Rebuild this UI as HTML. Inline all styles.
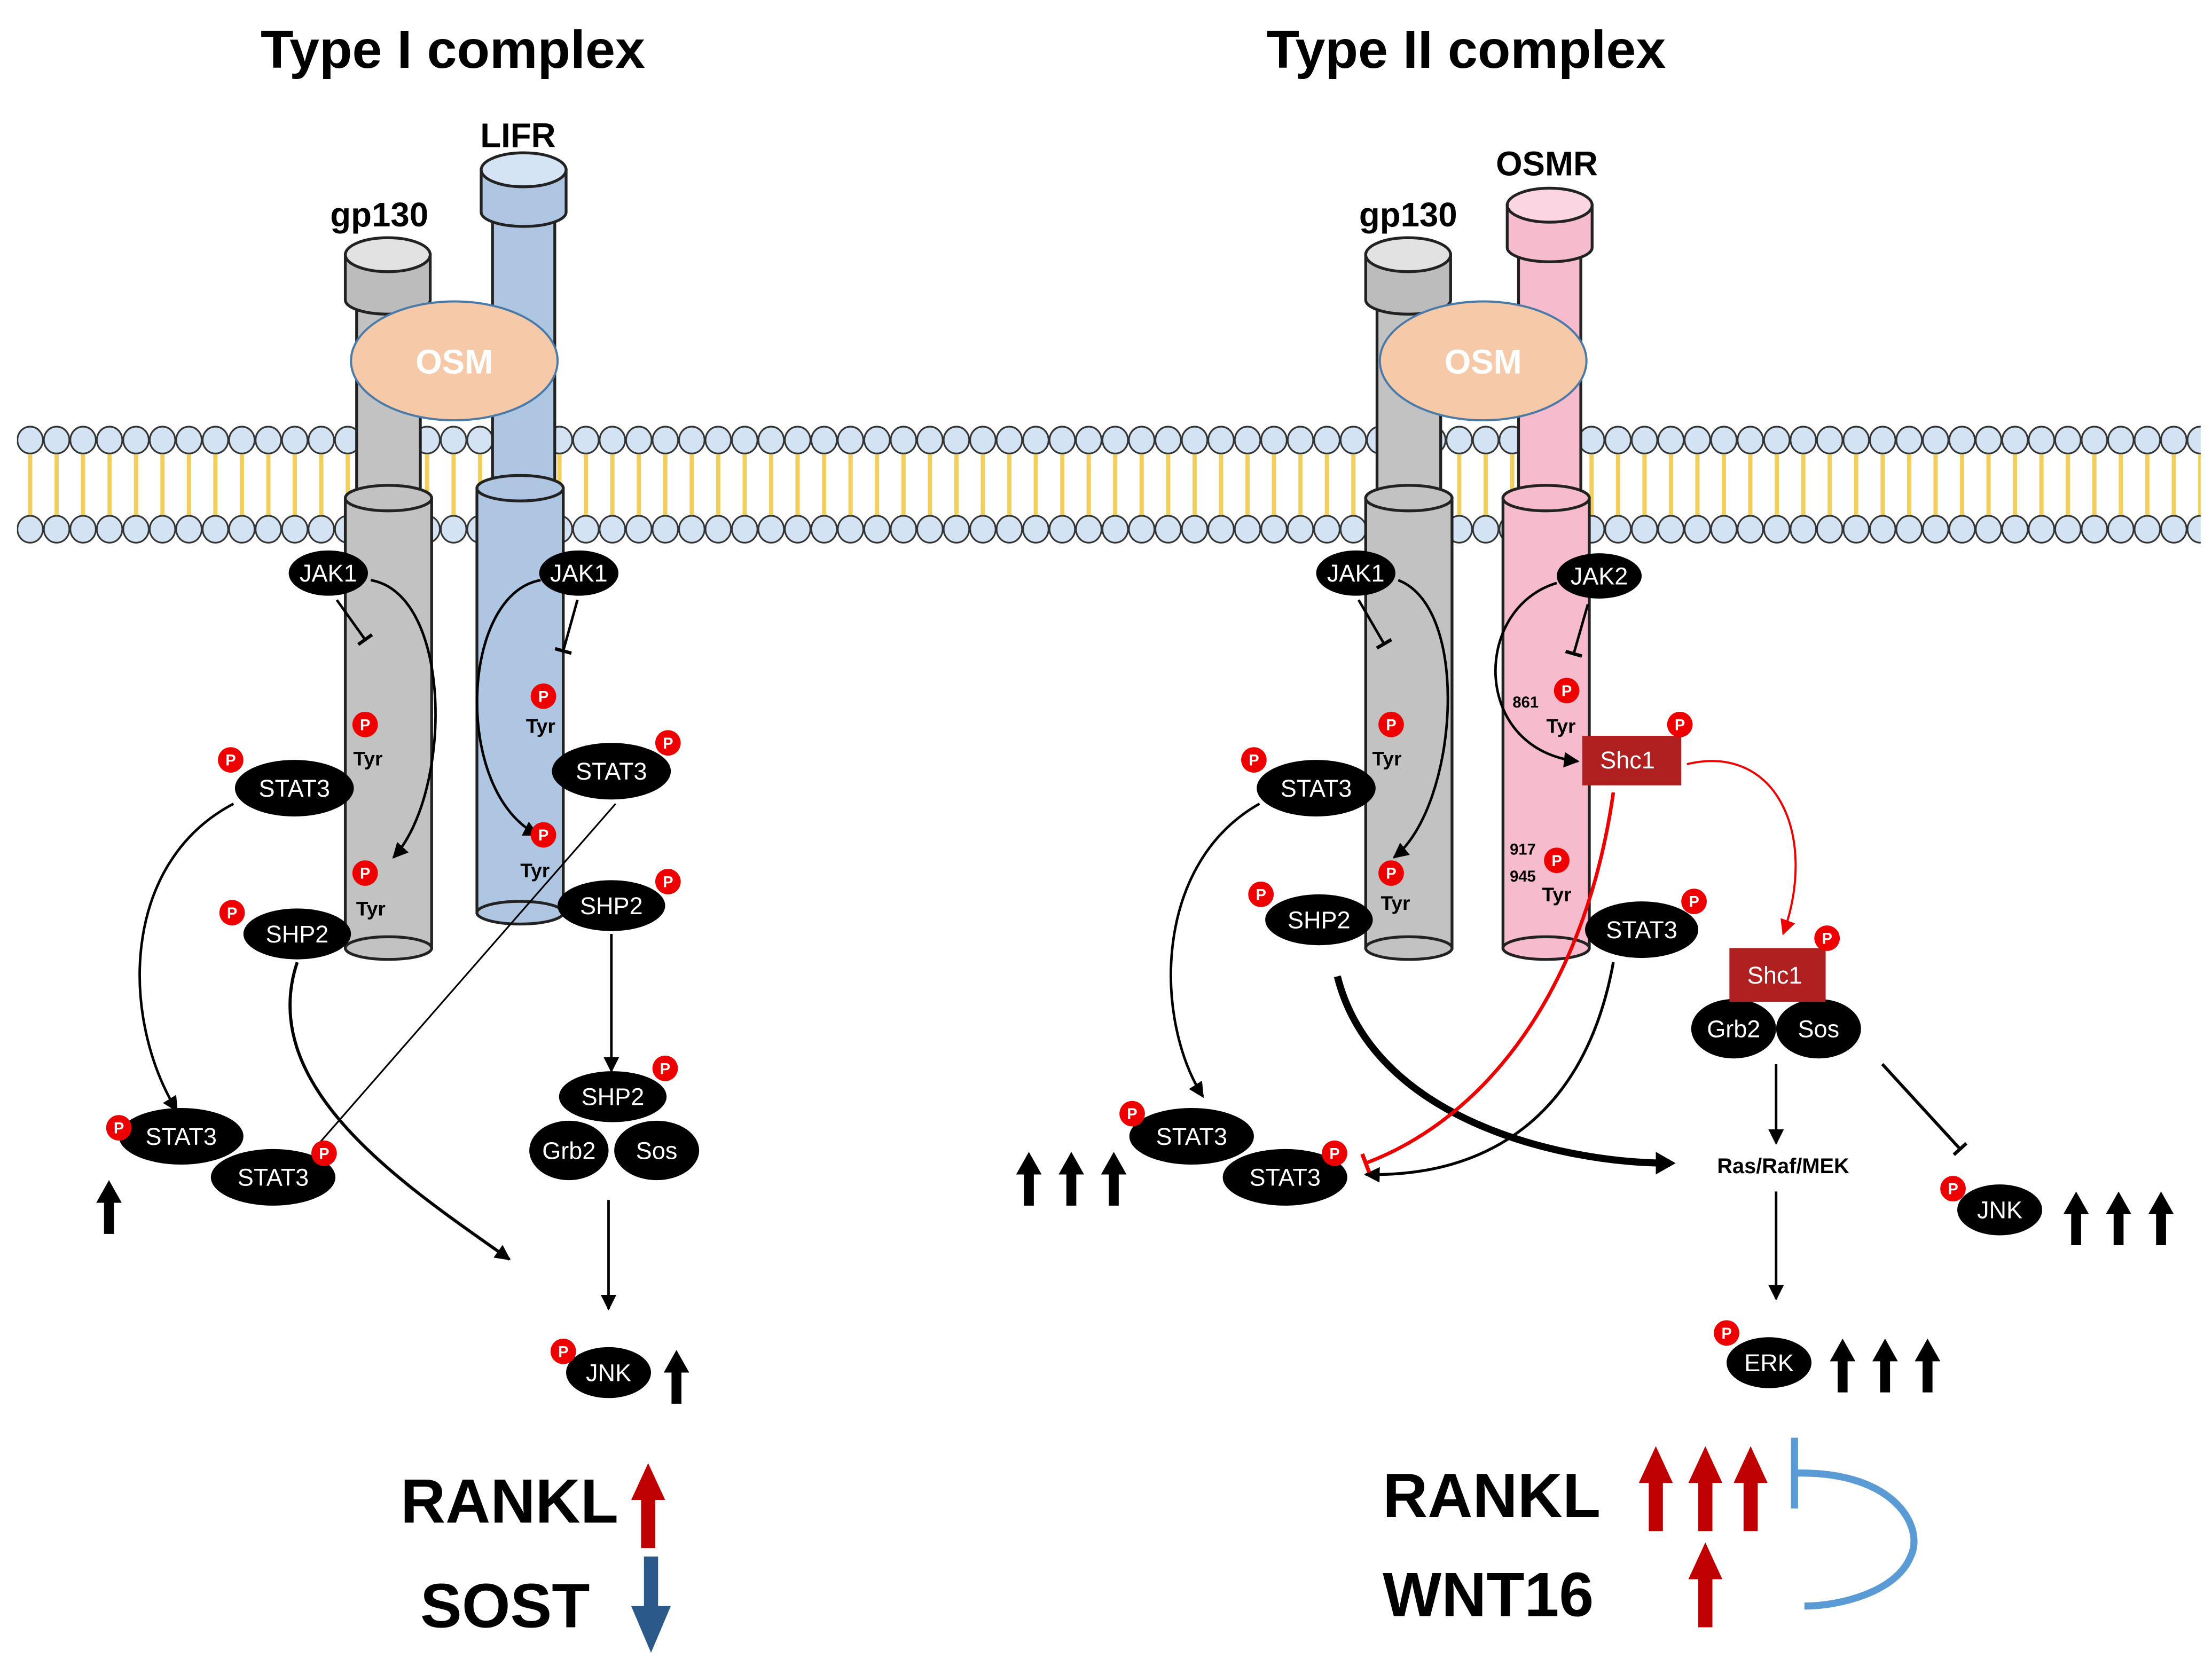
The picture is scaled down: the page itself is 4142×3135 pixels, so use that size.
<!DOCTYPE html>
<html><head><meta charset="utf-8"><style>html,body{margin:0;padding:0;background:#fff}svg{display:block}</style></head><body>
<svg width="4142" height="3135" viewBox="0 0 1563 1183" xmlns="http://www.w3.org/2000/svg" font-family="Liberation Sans, sans-serif">
<defs>
<marker id="ah" viewBox="0 0 10 10" refX="9" refY="5" markerWidth="11" markerHeight="11" markerUnits="userSpaceOnUse" orient="auto"><path d="M0,0 L10,5 L0,10 z" fill="#000"/></marker>
<marker id="ahr" viewBox="0 0 10 10" refX="9" refY="5" markerWidth="11" markerHeight="11" markerUnits="userSpaceOnUse" orient="auto"><path d="M0,0 L10,5 L0,10 z" fill="#e00"/></marker>
<marker id="tb" viewBox="0 0 10 10" refX="5" refY="5" markerWidth="12" markerHeight="12" markerUnits="userSpaceOnUse" orient="auto"><path d="M5,0 L5,10" stroke="#000" stroke-width="2"/></marker>
<marker id="tbr" viewBox="0 0 10 10" refX="5" refY="5" markerWidth="14" markerHeight="14" markerUnits="userSpaceOnUse" orient="auto"><path d="M5,0 L5,10" stroke="#e00" stroke-width="2"/></marker>
<pattern id="heads" x="12" y="0" width="18.7" height="1183" patternUnits="userSpaceOnUse">
<ellipse cx="9.3" cy="311" rx="9" ry="9.5" fill="#d3e3f3" stroke="#333" stroke-width="1.2"/>
<ellipse cx="9.3" cy="374" rx="9" ry="9.5" fill="#d3e3f3" stroke="#333" stroke-width="1.2"/>
<line x1="9.3" y1="321" x2="9.3" y2="364" stroke="#f2cf5a" stroke-width="3"/>
</pattern>
<g id="up"><path d="M-3.5,0 L-3.5,-22 L-9,-22 L0,-38 L9,-22 L3.5,-22 L3.5,0 z" fill="#000"/></g>
<g id="upr"><path d="M-5,0 L-5,-34 L-12,-34 L0,-60 L12,-34 L5,-34 L5,0 z" fill="#c00000"/></g>
</defs>

<text x="320" y="48" font-size="38" font-weight="bold" text-anchor="middle">Type I complex</text>
<text x="1036" y="48" font-size="38" font-weight="bold" text-anchor="middle">Type II complex</text>

<rect x="12" y="298" width="1543" height="90" fill="url(#heads)"/>

<g stroke="#222" stroke-width="2">
<rect x="252" y="210" width="45" height="150" fill="#c2c2c2"/>
<path d="M244,180 L244,212 A30,10 0 0 0 304,212 L304,180 z" fill="#bcbcbc"/>
<ellipse cx="274" cy="180" rx="30" ry="12" fill="#e2e2e2"/>
<rect x="244" y="352" width="61" height="318" fill="#c2c2c2"/>
<ellipse cx="274.5" cy="670" rx="30.5" ry="8" fill="#c2c2c2"/>
<ellipse cx="274.5" cy="352" rx="30.5" ry="9" fill="#c2c2c2"/>
<rect x="348" y="150" width="44" height="200" fill="#aec6e2"/>
<path d="M340,120 L340,150 A30,10 0 0 0 400,150 L400,120 z" fill="#aec6e2"/>
<ellipse cx="370" cy="120" rx="30" ry="12" fill="#d4e4f4"/>
<rect x="337" y="345" width="61" height="300" fill="#aec6e2"/>
<ellipse cx="367.5" cy="645" rx="30.5" ry="8" fill="#aec6e2"/>
<ellipse cx="367.5" cy="345" rx="30.5" ry="9" fill="#aec6e2"/>
<rect x="973" y="210" width="45" height="150" fill="#c2c2c2"/>
<path d="M965,180 L965,212 A30,10 0 0 0 1025,212 L1025,180 z" fill="#bcbcbc"/>
<ellipse cx="995" cy="180" rx="30" ry="12" fill="#e2e2e2"/>
<rect x="965" y="352" width="61" height="318" fill="#c2c2c2"/>
<ellipse cx="995.5" cy="670" rx="30.5" ry="8" fill="#c2c2c2"/>
<ellipse cx="995.5" cy="352" rx="30.5" ry="9" fill="#c2c2c2"/>
<rect x="1073" y="175" width="44" height="180" fill="#f6bccd"/>
<path d="M1065,145 L1065,175 A30,10 0 0 0 1125,175 L1125,145 z" fill="#f6bccd"/>
<ellipse cx="1095" cy="145" rx="30" ry="12" fill="#fbd6e2"/>
<rect x="1062" y="352" width="61" height="318" fill="#f6bccd"/>
<ellipse cx="1092.5" cy="670" rx="30.5" ry="8" fill="#f6bccd"/>
<ellipse cx="1092.5" cy="352" rx="30.5" ry="9" fill="#f6bccd"/>
</g>
<ellipse cx="321" cy="255" rx="73" ry="42" fill="#f6c9a9" stroke="#4a7aa8" stroke-width="1.5"/>
<text x="321" y="264" font-size="24" font-weight="bold" fill="#fff" text-anchor="middle">OSM</text>
<ellipse cx="1048" cy="255" rx="73" ry="42" fill="#f6c9a9" stroke="#4a7aa8" stroke-width="1.5"/>
<text x="1048" y="264" font-size="24" font-weight="bold" fill="#fff" text-anchor="middle">OSM</text>

<g font-size="24" font-weight="bold" text-anchor="middle">
<text x="268" y="160">gp130</text><text x="366" y="104">LIFR</text>
<text x="995" y="160">gp130</text><text x="1093" y="124">OSMR</text>
</g>

<g fill="none" stroke="#000" stroke-width="1.8">
<path d="M238,424 L258,452" marker-end="url(#tb)"/>
<path d="M262,410 C320,420 320,560 278,606" marker-end="url(#ah)"/>
<path d="M382,410 C325,420 320,560 380,590" marker-end="url(#ah)"/>
<path d="M408,424 L398,460" marker-end="url(#tb)"/>
<path d="M165,568 C85,610 85,720 125,785" marker-end="url(#ah)"/>
<path d="M210,680 C180,770 290,840 360,890" stroke-width="2.2" marker-end="url(#ah)"/>
<path d="M435,568 L222,812" stroke-width="1.2"/>
<path d="M432,660 L432,757" marker-end="url(#ah)"/>
<path d="M430,848 L430,925" marker-end="url(#ah)"/>

<path d="M960,424 L978,455" marker-end="url(#tb)"/>
<path d="M988,410 C1040,430 1030,570 985,606" marker-end="url(#ah)"/>
<path d="M1100,412 C1040,430 1040,530 1115,538" marker-end="url(#ah)"/>
<path d="M1122,427 L1112,462" marker-end="url(#tb)"/>
<path d="M890,568 C815,610 815,720 850,775" marker-end="url(#ah)"/>
<path d="M945,690 C970,790 1100,822 1180,822" stroke-width="5"/>
<path d="M1170,814 L1184,822 L1170,830 z" fill="#000" stroke="none"/>
<path d="M1140,680 C1120,790 1050,832 965,830" stroke-width="2" marker-end="url(#ah)"/>
<path d="M1255,752 L1255,808" marker-end="url(#ah)"/>
<path d="M1255,842 L1255,918" marker-end="url(#ah)"/>
<path d="M1330,752 L1385,812" stroke-width="2.2" marker-end="url(#tb)"/>
<path d="M1140,560 C1120,700 1050,790 965,822" stroke="#e00" stroke-width="2.5" marker-end="url(#tbr)"/>
<path d="M1192,540 C1255,525 1285,590 1260,660" stroke="#e00" stroke-width="1.5" marker-end="url(#ahr)"/>
</g>

<g fill="#000">
<ellipse cx="232" cy="405" rx="28" ry="16"/><ellipse cx="409" cy="405" rx="28" ry="16"/>
<ellipse cx="208" cy="557" rx="42" ry="20"/><ellipse cx="432" cy="545" rx="42" ry="20"/>
<ellipse cx="210" cy="660" rx="38" ry="18"/><ellipse cx="432" cy="640" rx="38" ry="18"/>
<ellipse cx="433" cy="775" rx="38" ry="18"/><ellipse cx="402" cy="813" rx="28" ry="21"/><ellipse cx="464" cy="813" rx="30" ry="21"/>
<ellipse cx="430" cy="970" rx="30" ry="18"/>
<ellipse cx="128" cy="803" rx="44" ry="20"/><ellipse cx="193" cy="832" rx="44" ry="20"/>
<ellipse cx="958" cy="405" rx="28" ry="16"/><ellipse cx="1130" cy="407" rx="30" ry="16"/>
<ellipse cx="930" cy="557" rx="42" ry="20"/><ellipse cx="932" cy="650" rx="38" ry="18"/>
<ellipse cx="1160" cy="657" rx="40" ry="20"/>
<ellipse cx="1225" cy="727" rx="30" ry="21"/><ellipse cx="1285" cy="727" rx="30" ry="21"/>
<ellipse cx="1250" cy="963" rx="30" ry="18"/><ellipse cx="1413" cy="855" rx="30" ry="18"/>
<ellipse cx="842" cy="803" rx="44" ry="20"/><ellipse cx="908" cy="832" rx="44" ry="20"/>
</g>
<rect x="1118" y="520" width="70" height="35" fill="#b02020"/>
<rect x="1222" y="670" width="68" height="38" fill="#b02020"/>
<g fill="#fff" font-size="17" text-anchor="middle">
<text x="232" y="411">JAK1</text><text x="409" y="411">JAK1</text>
<text x="208" y="563">STAT3</text><text x="432" y="551">STAT3</text>
<text x="210" y="666">SHP2</text><text x="432" y="646">SHP2</text>
<text x="433" y="781">SHP2</text><text x="402" y="819">Grb2</text><text x="464" y="819">Sos</text>
<text x="430" y="976">JNK</text><text x="128" y="809">STAT3</text><text x="193" y="838">STAT3</text>
<text x="958" y="411">JAK1</text><text x="1130" y="413">JAK2</text>
<text x="930" y="563">STAT3</text><text x="932" y="656">SHP2</text><text x="1160" y="663">STAT3</text>
<text x="1225" y="733">Grb2</text><text x="1285" y="733">Sos</text>
<text x="1250" y="969">ERK</text><text x="1413" y="861">JNK</text>
<text x="842" y="809">STAT3</text><text x="908" y="838">STAT3</text>
<text x="1150" y="543">Shc1</text><text x="1254" y="695">Shc1</text>
</g>

<g>
<g fill="#e00">
<circle cx="163" cy="537" r="9"/><circle cx="258" cy="512" r="9"/><circle cx="258" cy="617" r="9"/>
<circle cx="384" cy="492" r="9"/><circle cx="384" cy="590" r="9"/><circle cx="472" cy="525" r="9"/>
<circle cx="472" cy="623" r="9"/><circle cx="470" cy="755" r="9"/><circle cx="164" cy="645" r="9"/>
<circle cx="84" cy="797" r="9"/><circle cx="229" cy="815" r="9"/><circle cx="398" cy="955" r="9"/>
<circle cx="886" cy="537" r="9"/><circle cx="983" cy="512" r="9"/><circle cx="983" cy="617" r="9"/>
<circle cx="1107" cy="488" r="9"/><circle cx="1187" cy="512" r="9"/><circle cx="1100" cy="608" r="9"/>
<circle cx="891" cy="632" r="9"/><circle cx="1197" cy="637" r="9"/><circle cx="1291" cy="663" r="9"/>
<circle cx="800" cy="787" r="9"/><circle cx="943" cy="815" r="9"/><circle cx="1220" cy="942" r="9"/>
<circle cx="1380" cy="840" r="9"/>
</g>
<g fill="#fff" font-size="11" font-weight="bold" text-anchor="middle">
<text x="163" y="541">P</text><text x="258" y="516">P</text><text x="258" y="621">P</text>
<text x="384" y="496">P</text><text x="384" y="594">P</text><text x="472" y="529">P</text>
<text x="472" y="627">P</text><text x="470" y="759">P</text><text x="164" y="649">P</text>
<text x="84" y="801">P</text><text x="229" y="819">P</text><text x="398" y="959">P</text>
<text x="886" y="541">P</text><text x="983" y="516">P</text><text x="983" y="621">P</text>
<text x="1107" y="492">P</text><text x="1187" y="516">P</text><text x="1100" y="612">P</text>
<text x="891" y="636">P</text><text x="1197" y="641">P</text><text x="1291" y="667">P</text>
<text x="800" y="791">P</text><text x="943" y="819">P</text><text x="1220" y="946">P</text>
<text x="1380" y="844">P</text>
</g>
</g>
<g font-size="14" font-weight="bold" text-anchor="middle">
<text x="260" y="541">Tyr</text><text x="262" y="647">Tyr</text>
<text x="382" y="518">Tyr</text><text x="378" y="620">Tyr</text>
<text x="980" y="541">Tyr</text><text x="986" y="643">Tyr</text>
<text x="1103" y="518">Tyr</text><text x="1100" y="637">Tyr</text>
<text x="1078" y="500" font-size="11">861</text>
<text x="1076" y="604" font-size="11">917</text>
<text x="1076" y="623" font-size="11">945</text>
<text x="1260" y="829" font-size="15">Ras/Raf/MEK</text>
</g>

<use href="#up" x="77" y="872"/><use href="#up" x="478" y="992"/>
<use href="#up" x="727" y="852"/><use href="#up" x="757" y="852"/><use href="#up" x="787" y="852"/>
<use href="#up" x="1302" y="984"/><use href="#up" x="1332" y="984"/><use href="#up" x="1362" y="984"/>
<use href="#up" x="1467" y="880"/><use href="#up" x="1497" y="880"/><use href="#up" x="1527" y="880"/>

<g font-size="44" font-weight="bold">
<text x="283" y="1076">RANKL</text><text x="297" y="1150">SOST</text>
<text x="977" y="1072">RANKL</text><text x="977" y="1142">WNT16</text>
</g>
<use href="#upr" x="458" y="1094"/>
<path d="M455,1100 L465,1100 L465,1135 L474,1135 L460,1168 L446,1135 L455,1135 z" fill="#2b5a8a"/>
<use href="#upr" x="1170" y="1082"/><use href="#upr" x="1205" y="1082"/><use href="#upr" x="1237" y="1082"/>
<use href="#upr" x="1205" y="1150"/>
<g fill="none" stroke="#5b9bd5" stroke-width="5">
<line x1="1268" y1="1016" x2="1268" y2="1066"/>
<path d="M1270,1041 C1340,1040 1360,1080 1350,1100 C1340,1125 1300,1135 1275,1135"/>
</g>
</svg>
</body></html>
